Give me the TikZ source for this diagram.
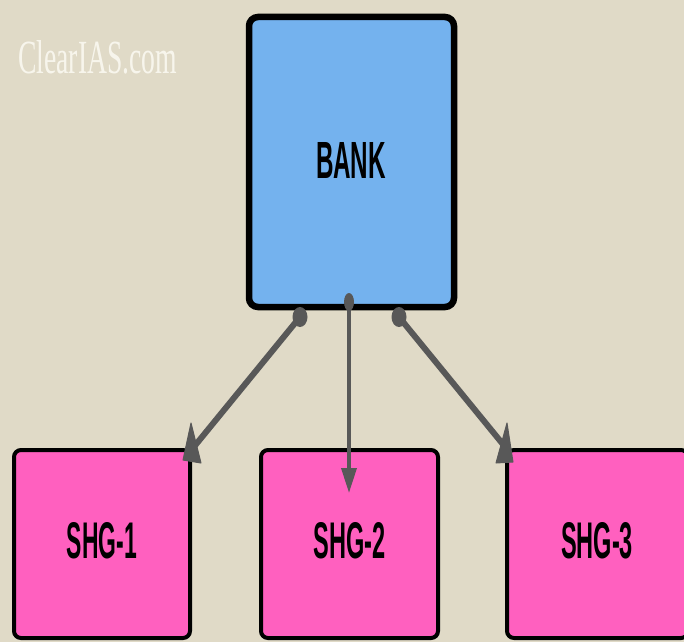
\documentclass[tikz,border=0pt]{standalone}
\usepackage{fontspec}
\setmainfont{Liberation Sans}
\newfontfamily\logofont{Liberation Serif}
\usetikzlibrary{arrows.meta}
\definecolor{bgc}{RGB}{224,218,199}
\definecolor{bankblue}{RGB}{116,178,238}
\definecolor{shgpink}{RGB}{255,96,191}
\definecolor{arrgray}{RGB}{88,88,88}
\definecolor{logowhite}{RGB}{250,248,240}
\tikzset{
  bankbox/.style={draw=black, line width=6.5pt, rounded corners=9pt, fill=bankblue,
    minimum width=205pt, minimum height=290pt, inner sep=0pt},
  shgbox/.style={draw=black, line width=4pt, rounded corners=7pt, fill=shgpink,
    minimum height=188pt, inner sep=0pt},
  lbl/.style={inner sep=0pt, text=black},
  dotend/.style={fill=arrgray},
  headfill/.style={fill=arrgray, draw=arrgray, line width=1pt, line join=round},
  sideline/.style={draw=arrgray, line width=6pt},
  midarrow/.style={draw=arrgray, line width=3.5pt, -{Triangle[length=25pt,width=15pt]}}
}
\begin{document}
\begin{tikzpicture}[x=1pt,y=-1pt]
  \fill[bgc] (0,0) rectangle (684,642);
  \useasboundingbox (0,0) rectangle (684,642);
  \begin{scope}
    \clip (0,0) rectangle (684,642);
    % boxes
    \node[bankbox] (bank) at (351.5,162) {};
    \node[shgbox, minimum width=176pt] (shg1) at (102,544) {};
    \node[shgbox, minimum width=177pt] (shg2) at (349.5,544) {};
    \node[shgbox, minimum width=181pt] (shg3) at (597.5,544) {};
    % labels
    \node[lbl] (banklbl) at (351,160) {\resizebox{70pt}{36pt}{\bfseries BANK}};
    \node[lbl] (shg1lbl) at (102,541) {\resizebox{70pt}{36pt}{\bfseries SHG-1}};
    \node[lbl] (shg2lbl) at (349.5,541) {\resizebox{72pt}{36pt}{\bfseries SHG-2}};
    \node[lbl] (shg3lbl) at (597,541) {\resizebox{72pt}{36pt}{\bfseries SHG-3}};
    % logo
    \node[inner sep=0pt, anchor=base west, text=logowhite, opacity=0.92] (logo) at (18,74)
      {\resizebox{159pt}{33pt}{\logofont ClearIAS.com}};
    % connector points
    \coordinate (d1) at (300,317);
    \coordinate (d2) at (349,302);
    \coordinate (d3) at (399,317);
    \coordinate (t1) at (193,448);
    \coordinate (t2) at (349,493);
    \coordinate (t3) at (506,448);
    % connectors
    \draw[sideline] (d1) -- (t1);
    \draw[midarrow] (d2) -- (t2);
    \draw[sideline] (d3) -- (t3);
    \filldraw[headfill] (191,423) -- (201,463) -- (183,460) -- cycle;
    \filldraw[headfill] (507,423) -- (513,462) -- (496,463) -- cycle;
    \fill[dotend] (d1) ellipse [x radius=7.5pt, y radius=10pt];
    \fill[dotend] (d2) ellipse [x radius=5pt, y radius=9pt];
    \fill[dotend] (d3) ellipse [x radius=7.5pt, y radius=10pt];
  \end{scope}
\end{tikzpicture}
\end{document}
